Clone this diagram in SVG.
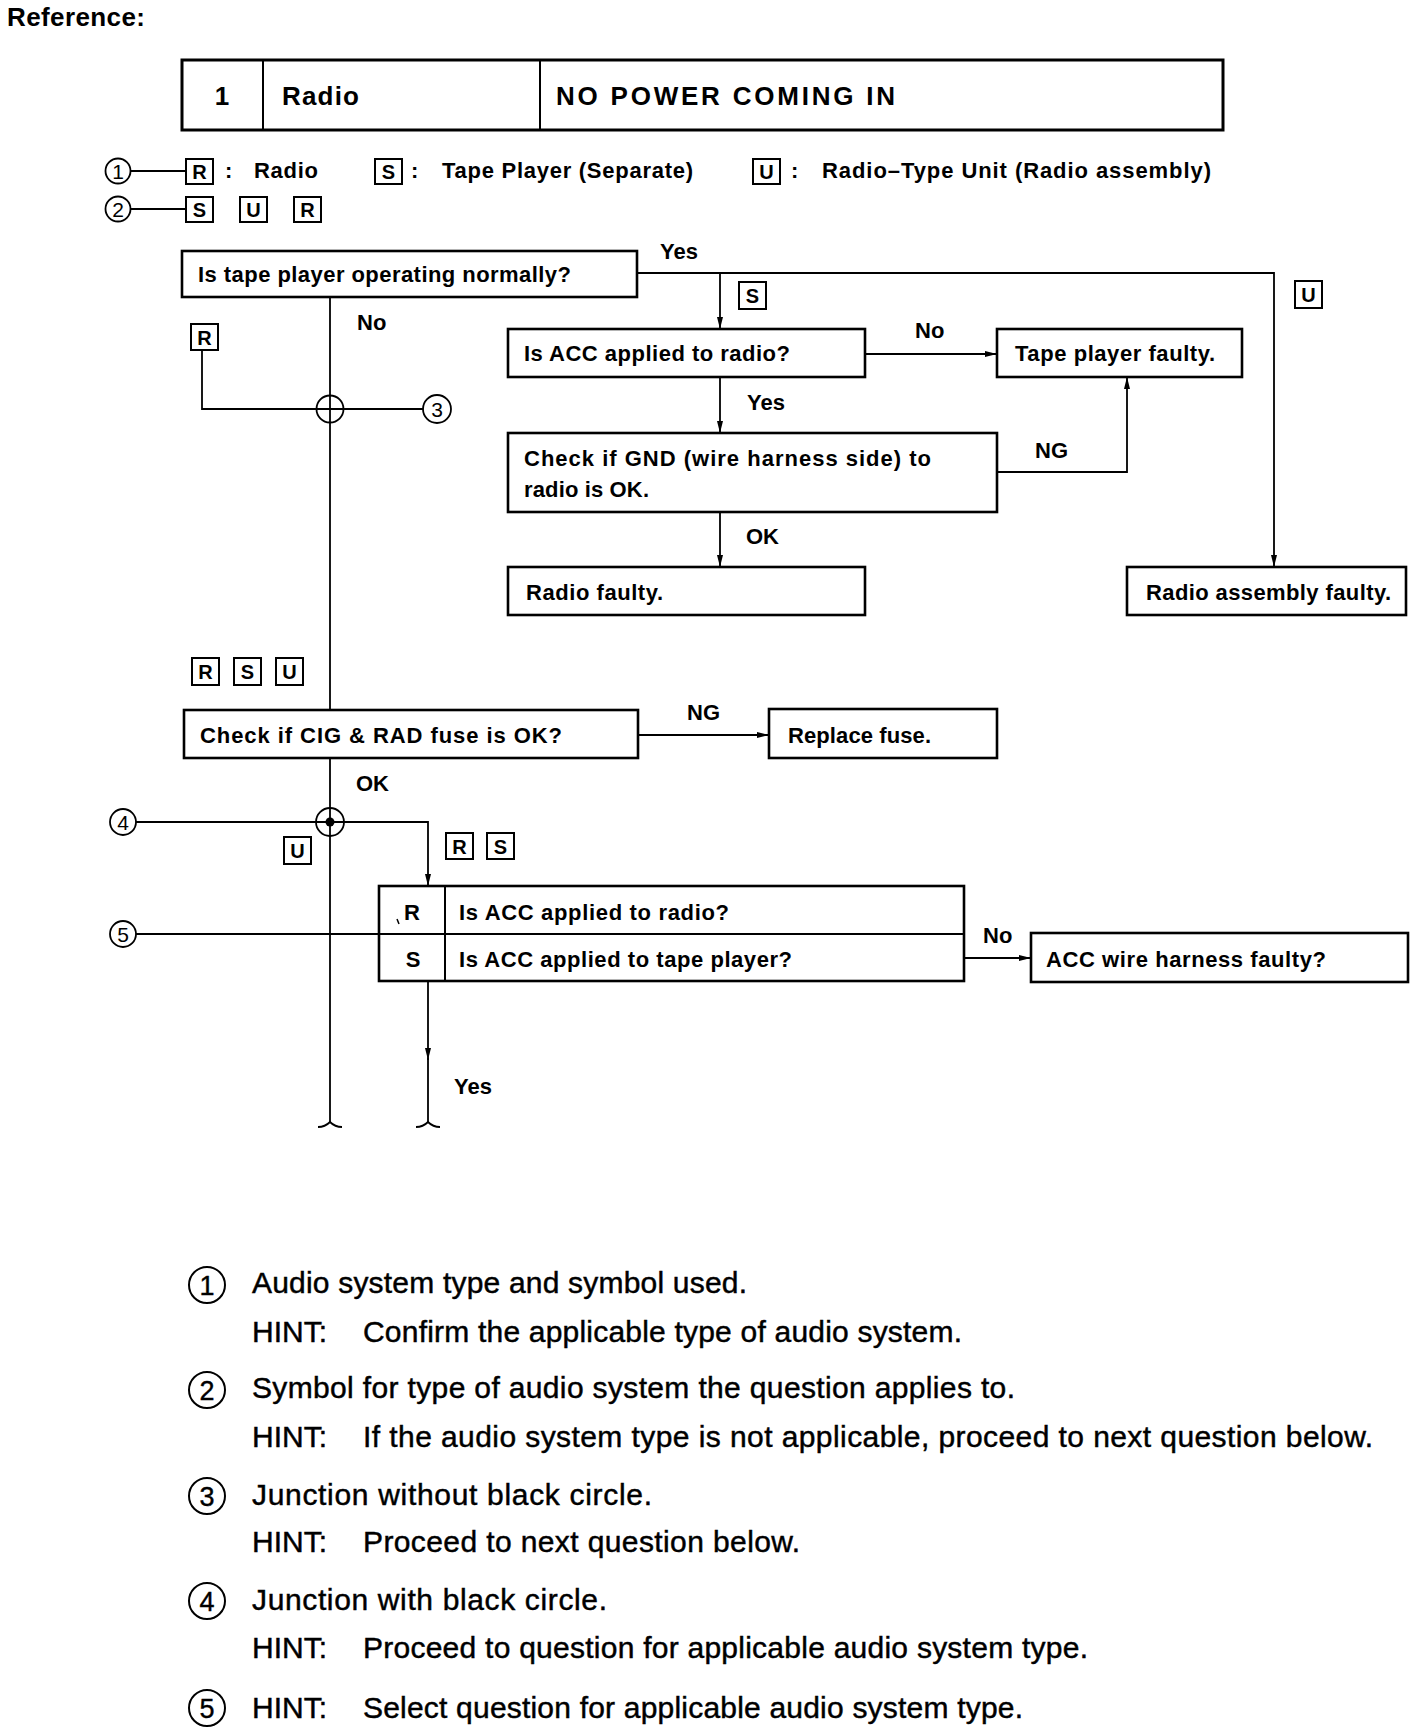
<svg xmlns="http://www.w3.org/2000/svg" width="1424" height="1732" viewBox="0 0 1424 1732">
<style>
text{font-family:"Liberation Sans",Arial,Helvetica,sans-serif;fill:#000}
.b{font-weight:bold;font-size:22px}
.h{font-weight:bold;font-size:26px}
.n{font-size:30px;stroke:#000;stroke-width:0.45}
.box{fill:#fff;stroke:#000;stroke-width:2.6}
.ln{fill:none;stroke:#000;stroke-width:1.8}
.tag rect{fill:none;stroke:#000;stroke-width:2}
.tag text{font-weight:bold;font-size:20px;text-anchor:middle}
.cn circle{fill:none;stroke:#000;stroke-width:1.8}
.cn text{font-size:21px;text-anchor:middle}
.cb circle{fill:none;stroke:#000;stroke-width:2}
.cb text{font-size:27px;text-anchor:middle;stroke:#000;stroke-width:0.4}
</style>
<defs>
<marker id="ah" markerWidth="12" markerHeight="6" refX="12" refY="3" orient="auto" markerUnits="userSpaceOnUse"><path d="M0,0 L12,3 L0,6 z" fill="#000"/></marker>
</defs>

<text class="h" x="7" y="26" textLength="138">Reference:</text>

<g id="header">
<rect x="182" y="60" width="1041" height="70" fill="none" stroke="#000" stroke-width="3"/>
<line x1="263" y1="60" x2="263" y2="130" stroke="#000" stroke-width="2"/>
<line x1="540" y1="60" x2="540" y2="130" stroke="#000" stroke-width="2"/>
<text class="h" x="222" y="105" text-anchor="middle">1</text>
<text class="h" x="282" y="105" textLength="77">Radio</text>
<text class="h" x="556" y="105" textLength="339">NO POWER COMING IN</text>
</g>

<g id="legend">
<g class="cn"><circle cx="118" cy="171" r="12.5"/><text x="118" y="178.5">1</text></g>
<g class="cn"><circle cx="118" cy="209" r="12.5"/><text x="118" y="216.5">2</text></g>
<line class="ln" x1="130" y1="171" x2="186" y2="171"/>
<line class="ln" x1="130" y1="209" x2="186" y2="209"/>
<g class="tag"><rect x="186" y="159" width="27" height="25"/><text x="199.5" y="179">R</text></g>
<text class="b" x="225" y="178">:</text>
<text class="b" x="254" y="178" textLength="64">Radio</text>
<g class="tag"><rect x="375" y="159" width="27" height="25"/><text x="388.5" y="179">S</text></g>
<text class="b" x="411" y="178">:</text>
<text class="b" x="442" y="178" textLength="251">Tape Player (Separate)</text>
<g class="tag"><rect x="753" y="159" width="27" height="25"/><text x="766.5" y="179">U</text></g>
<text class="b" x="791" y="178">:</text>
<text class="b" x="822" y="178" textLength="389">Radio–Type Unit (Radio assembly)</text>
<g class="tag"><rect x="186" y="197" width="27" height="25"/><text x="199.5" y="217">S</text></g>
<g class="tag"><rect x="240" y="197" width="27" height="25"/><text x="253.5" y="217">U</text></g>
<g class="tag"><rect x="294" y="197" width="27" height="25"/><text x="307.5" y="217">R</text></g>
</g>

<g id="connectors">
<path class="ln" d="M330 297 V710"/>
<path class="ln" d="M202 350 V409 H423"/>
<path class="ln" d="M637 273 H1274 V567" marker-end="url(#ah)"/>
<path class="ln" d="M720 273 V329" marker-end="url(#ah)"/>
<path class="ln" d="M865 354 H997" marker-end="url(#ah)"/>
<path class="ln" d="M720 377 V433" marker-end="url(#ah)"/>
<path class="ln" d="M997 472 H1127 V377" marker-end="url(#ah)"/>
<path class="ln" d="M720 512 V567" marker-end="url(#ah)"/>
<path class="ln" d="M638 735 H769" marker-end="url(#ah)"/>
<path class="ln" d="M330 758 V1122"/>
<path class="ln" d="M318 1127 Q325 1127 330 1122 Q335 1127 342 1127"/>
<path class="ln" d="M136 822 H428 V886" marker-end="url(#ah)"/>
<path class="ln" d="M136 934 H379"/>
<path class="ln" d="M964 958 H1031" marker-end="url(#ah)"/>
<path class="ln" d="M428 981 V1060" marker-end="url(#ah)"/>
<path class="ln" d="M428 1058 V1122"/>
<path class="ln" d="M416 1127 Q423 1127 428 1122 Q433 1127 440 1127"/>
</g>

<g id="labels">
<text class="b" x="660" y="259">Yes</text>
<text class="b" x="357" y="330">No</text>
<text class="b" x="915" y="338">No</text>
<text class="b" x="747" y="410">Yes</text>
<text class="b" x="1035" y="458">NG</text>
<text class="b" x="746" y="544">OK</text>
<text class="b" x="687" y="720">NG</text>
<text class="b" x="356" y="791">OK</text>
<text class="b" x="983" y="943">No</text>
<text class="b" x="454" y="1094">Yes</text>
</g>

<g id="tags">
<g class="tag"><rect x="739" y="282" width="27" height="27"/><text x="752.5" y="303">S</text></g>
<g class="tag"><rect x="1295" y="281" width="27" height="27"/><text x="1308.5" y="302">U</text></g>
<g class="tag"><rect x="191" y="324" width="27" height="26"/><text x="204.5" y="345">R</text></g>
<g class="tag"><rect x="192" y="658" width="27" height="27"/><text x="205.5" y="679">R</text></g>
<g class="tag"><rect x="234" y="658" width="27" height="27"/><text x="247.5" y="679">S</text></g>
<g class="tag"><rect x="276" y="658" width="27" height="27"/><text x="289.5" y="679">U</text></g>
<g class="tag"><rect x="284" y="837" width="27" height="27"/><text x="297.5" y="858">U</text></g>
<g class="tag"><rect x="446" y="833" width="27" height="26"/><text x="459.5" y="854">R</text></g>
<g class="tag"><rect x="487" y="833" width="27" height="26"/><text x="500.5" y="854">S</text></g>
</g>

<g id="junction3"><circle cx="330" cy="409" r="13.5" fill="none" stroke="#000" stroke-width="1.8"/></g>
<g id="junction4"><circle cx="330" cy="822" r="14" fill="none" stroke="#000" stroke-width="1.8"/><circle cx="330" cy="822" r="4.5" fill="#000"/></g>
<g id="marker3" class="cn"><circle cx="437" cy="409" r="14" fill="#fff"/><text x="437" y="416.5">3</text></g>
<g id="marker4" class="cn"><circle cx="123" cy="822" r="13"/><text x="123" y="829.5">4</text></g>
<g id="marker5" class="cn"><circle cx="123" cy="934" r="13"/><text x="123" y="941.5">5</text></g>

<g id="q1"><rect class="box" x="182" y="251" width="455" height="46"/><text class="b" x="198" y="282" textLength="373">Is tape player operating normally?</text></g>
<g id="q2"><rect class="box" x="508" y="329" width="357" height="48"/><text class="b" x="524" y="361" textLength="266">Is ACC applied to radio?</text></g>
<g id="tapefaulty"><rect class="box" x="997" y="329" width="245" height="48"/><text class="b" x="1015" y="361" textLength="200">Tape player faulty.</text></g>
<g id="q3"><rect class="box" x="508" y="433" width="489" height="79"/><text class="b" x="524" y="466" textLength="407">Check if GND (wire harness side) to</text><text class="b" x="524" y="497" textLength="125">radio is OK.</text></g>
<g id="radiofaulty"><rect class="box" x="508" y="567" width="357" height="48"/><text class="b" x="526" y="600" textLength="137">Radio faulty.</text></g>
<g id="assyfaulty"><rect class="box" x="1127" y="567" width="279" height="48"/><text class="b" x="1146" y="600" textLength="245">Radio assembly faulty.</text></g>
<g id="q4"><rect class="box" x="184" y="710" width="454" height="48"/><text class="b" x="200" y="743" textLength="362">Check if CIG &amp; RAD fuse is OK?</text></g>
<g id="replacefuse"><rect class="box" x="769" y="709" width="228" height="49"/><text class="b" x="788" y="743" textLength="143">Replace fuse.</text></g>
<g id="q5">
<rect class="box" x="379" y="886" width="585" height="95"/>
<line x1="445" y1="886" x2="445" y2="981" stroke="#000" stroke-width="2"/>
<line x1="379" y1="934" x2="964" y2="934" stroke="#000" stroke-width="1.8"/>
<line x1="397" y1="919" x2="399" y2="924" stroke="#000" stroke-width="1.5"/>
<text class="b" x="412" y="920" text-anchor="middle">R</text>
<text class="b" x="413" y="967" text-anchor="middle">S</text>
<text class="b" x="459" y="920" textLength="270">Is ACC applied to radio?</text>
<text class="b" x="459" y="967" textLength="333">Is ACC applied to tape player?</text>
</g>
<g id="accfaulty"><rect class="box" x="1031" y="933" width="377" height="49"/><text class="b" x="1046" y="967" textLength="280">ACC wire harness faulty?</text></g>

<g id="notes">
<g class="cb"><circle cx="207" cy="1285" r="18"/><text x="207" y="1294.5">1</text></g>
<text class="n" x="252" y="1293" textLength="495">Audio system type and symbol used.</text>
<text class="n" x="252" y="1342" textLength="75">HINT:</text>
<text class="n" x="363" y="1342" textLength="599">Confirm the applicable type of audio system.</text>
<g class="cb"><circle cx="207" cy="1390" r="18"/><text x="207" y="1399.5">2</text></g>
<text class="n" x="252" y="1398" textLength="763">Symbol for type of audio system the question applies to.</text>
<text class="n" x="252" y="1447" textLength="75">HINT:</text>
<text class="n" x="363" y="1447" textLength="1010">If the audio system type is not applicable, proceed to next question below.</text>
<g class="cb"><circle cx="207" cy="1496" r="18"/><text x="207" y="1505.5">3</text></g>
<text class="n" x="252" y="1505" textLength="400">Junction without black circle.</text>
<text class="n" x="252" y="1552" textLength="75">HINT:</text>
<text class="n" x="363" y="1552" textLength="437">Proceed to next question below.</text>
<g class="cb"><circle cx="207" cy="1601" r="18"/><text x="207" y="1610.5">4</text></g>
<text class="n" x="252" y="1610" textLength="355">Junction with black circle.</text>
<text class="n" x="252" y="1658" textLength="75">HINT:</text>
<text class="n" x="363" y="1658" textLength="725">Proceed to question for applicable audio system type.</text>
<g class="cb"><circle cx="207" cy="1708" r="18"/><text x="207" y="1717.5">5</text></g>
<text class="n" x="252" y="1718" textLength="75">HINT:</text>
<text class="n" x="363" y="1718" textLength="660">Select question for applicable audio system type.</text>
</g>
</svg>
